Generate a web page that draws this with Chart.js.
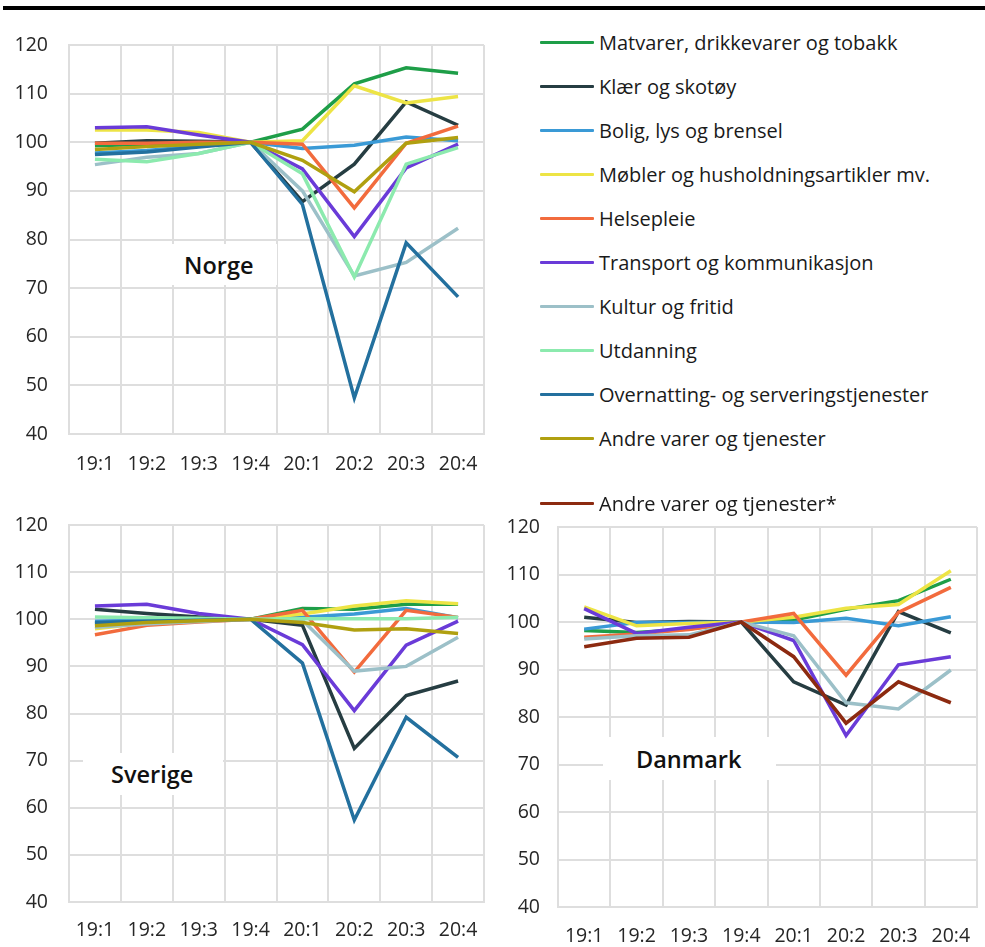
<!DOCTYPE html>
<html>
<head>
<meta charset="utf-8">
<script src="https://cdn.jsdelivr.net/npm/chart.js@4.4.0/dist/chart.umd.min.js"></script>
<style>
  body { margin: 0; width: 985px; height: 947px; background: #fff; position: relative; overflow: hidden;
         font-family: "Open Sans", sans-serif; color: #262626; }
  .rule { position: absolute; left: 3px; right: 0; top: 6px; height: 4px; background: #000; }
  .panel { position: absolute; }
  .tag { position: absolute; background: #fff; font-weight: 600; font-size: 23.5px; color: #111;
         display: flex; align-items: center; box-sizing: border-box; white-space: nowrap; }
  .item { position: absolute; left: 540px; height: 26px; display: flex; align-items: center;
          white-space: nowrap; font-size: 20px; color: #1a1a1a; }
  .item i { display: inline-block; width: 54px; height: 3px; margin-right: 5px; border-radius: 1px; }
</style>
</head>
<body>
<div class="rule"></div>

<div class="panel" style="left:0;top:30px"><canvas id="norge" width="500" height="460"></canvas></div>
<div class="panel" style="left:0;top:510px"><canvas id="sverige" width="500" height="437"></canvas></div>
<div class="panel" style="left:490px;top:510px"><canvas id="danmark" width="495" height="437"></canvas></div>

<div class="tag" style="left:122px;top:244px;width:155px;height:41px;padding-left:62px">Norge</div>
<div class="tag" style="left:83px;top:753px;width:140px;height:42px;padding-left:28px">Sverige</div>
<div class="tag" style="left:603px;top:737px;width:173px;height:43px;padding-left:33px">Danmark</div>

<div id="legend"></div>

<script>
const quarters = ['19:1', '19:2', '19:3', '19:4', '20:1', '20:2', '20:3', '20:4'];
const yTicks = [40, 50, 60, 70, 80, 90, 100, 110, 120];

const groups = [
  'Matvarer, drikkevarer og tobakk',
  'Klær og skotøy',
  'Bolig, lys og brensel',
  'Møbler og husholdningsartikler mv.',
  'Helsepleie',
  'Transport og kommunikasjon',
  'Kultur og fritid',
  'Utdanning',
  'Overnatting- og serveringstjenester',
  'Andre varer og tjenester',
  'Andre varer og tjenester*'
];
const groupColors = ['#1e9e48', '#263d42', '#3a9ad6', '#ede445', '#f26b3d', '#6a3bd8',
                     '#9cc0c8', '#8ceaae', '#23709e', '#b0a010', '#8c2a10'];

// one row per group, same order as groups[]
const norge = [
  [99.3, 99.6, 99.8, 100, 102.7, 112.0, 115.3, 114.2],
  [99.8, 100.3, 100.2, 100, 87.8, 95.5, 108.3, 103.5],
  [97.8, 98.3, 99.2, 100, 98.7, 99.4, 101.1, 100.3],
  [102.5, 102.5, 102.0, 100, 100.3, 111.6, 108.1, 109.4],
  [99.8, 99.8, 100.0, 100, 99.6, 86.5, 99.8, 103.3],
  [103.0, 103.2, 101.5, 100, 94.5, 80.6, 94.7, 99.6],
  [95.4, 96.9, 97.7, 100, 90.0, 72.5, 75.3, 82.3],
  [96.5, 96.0, 97.7, 100, 93.5, 72.3, 95.5, 98.9],
  [97.5, 98.0, 99.0, 100, 87.2, 47.4, 79.3, 68.2],
  [98.5, 99.1, 99.6, 100, 96.3, 89.8, 99.8, 101.0]
];

const sverige = [
  [99.0, 99.5, 99.8, 100, 102.3, 102.1, 103.2, 103.2],
  [102.1, 101.2, 100.5, 100, 98.7, 72.6, 83.8, 86.9],
  [99.6, 99.8, 100.0, 100, 100.4, 101.1, 102.3, 100.3],
  [98.0, 99.2, 99.6, 100, 101.1, 102.8, 103.9, 103.3],
  [96.7, 98.7, 99.4, 100, 101.9, 88.8, 101.9, 100.4],
  [102.8, 103.2, 101.2, 100, 94.6, 80.6, 94.5, 99.6],
  [98.3, 99.0, 99.5, 100, 99.8, 89.0, 90.0, 96.2],
  [100.5, 100.3, 100.2, 100, 100.1, 100.1, 100.1, 100.4],
  [99.3, 99.6, 99.8, 100, 90.7, 57.4, 79.2, 70.7],
  [98.6, 99.3, 99.7, 100, 99.3, 97.7, 98.0, 97.0]
];

// Danmark only reports some of the groups
const danmarkGroups = [0, 1, 2, 3, 4, 5, 6, 10];
const danmark = [
  [98.2, 97.8, 98.5, 100, 100.4, 102.7, 104.5, 109.0],
  [101.0, 99.9, 100.1, 100, 87.4, 82.5, 102.2, 97.7],
  [98.5, 99.9, 99.9, 100, 99.9, 100.8, 99.2, 101.1],
  [103.2, 99.2, 99.7, 100, 101.0, 102.9, 103.7, 110.8],
  [96.8, 97.5, 98.4, 100, 101.8, 88.8, 102.0, 107.3],
  [102.8, 97.6, 98.9, 100, 96.1, 76.1, 91.0, 92.7],
  [96.4, 97.1, 97.3, 100, 97.1, 83.0, 81.7, 89.9],
  [94.8, 96.6, 96.8, 100, 92.7, 78.7, 87.4, 83.0]
];

// legend on the right
const legendRows = [42, 86, 130, 174, 218, 262, 306, 350, 394, 438, 503];
const legend = document.getElementById('legend');
groups.forEach((name, i) => {
  const row = document.createElement('div');
  row.className = 'item';
  row.style.top = (legendRows[i] - 13) + 'px';
  row.innerHTML = '<i style="background:' + groupColors[i] + '"></i>' + name;
  legend.appendChild(row);
});

const gridColor = '#dedede';
const tickFont = { family: 'Open Sans', size: 19.5 };

function drawPanel(id, values, idx, box) {
  const ctx = document.getElementById(id).getContext('2d');
  return new Chart(ctx, {
    type: 'line',
    data: {
      labels: quarters,
      datasets: values.map((row, k) => ({
        label: groups[idx[k]],
        data: row,
        borderColor: groupColors[idx[k]],
        borderWidth: 3.5,
        pointRadius: 0,
        tension: 0,
        fill: false,
        order: -k
      }))
    },
    options: {
      responsive: false,
      animation: false,
      devicePixelRatio: 1,
      layout: { padding: { top: box.top, right: box.right, left: 0, bottom: 0 } },
      plugins: { legend: { display: false }, tooltip: { enabled: false } },
      scales: {
        x: {
          offset: true,
          grid: { offset: true, color: gridColor, lineWidth: 2, drawTicks: false },
          border: { color: gridColor, width: 2 },
          ticks: { font: tickFont, color: '#262626', padding: box.xPad, maxRotation: 0, autoSkip: false },
          afterFit: (axis) => {
            axis.height = box.xHeight;
            axis.paddingLeft = 0;
            axis.paddingRight = 0;
          }
        },
        y: {
          min: 40,
          max: 120,
          afterBuildTicks: (axis) => { axis.ticks = yTicks.map(v => ({ value: v })); },
          grid: { color: gridColor, lineWidth: 2, drawTicks: false },
          border: { color: gridColor, width: 2 },
          ticks: { font: tickFont, color: '#262626', padding: box.yPad },
          afterFit: (axis) => {
            axis.width = box.yWidth;
            axis.paddingTop = 0;
            axis.paddingBottom = 0;
          }
        }
      }
    }
  });
}

const allGroups = [0, 1, 2, 3, 4, 5, 6, 7, 8, 9];
drawPanel('norge', norge, allGroups, { top: 15, right: 16, xHeight: 56, xPad: 19, yWidth: 69, yPad: 21 });
drawPanel('sverige', sverige, allGroups, { top: 15, right: 16, xHeight: 45, xPad: 17, yWidth: 69, yPad: 21 });
drawPanel('danmark', danmark, danmarkGroups, { top: 17, right: 8, xHeight: 40, xPad: 18, yWidth: 68, yPad: 18 });
</script>
</body>
</html>
